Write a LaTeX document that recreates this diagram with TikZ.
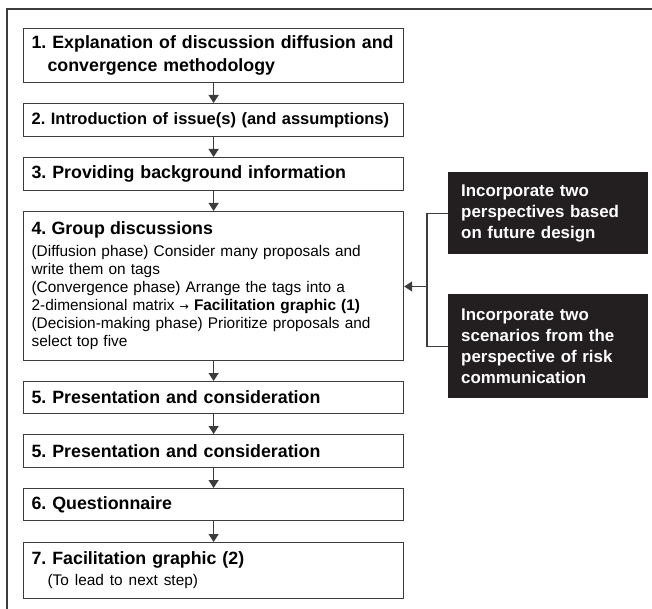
\documentclass[tikz,border=0pt]{standalone}
\usepackage{fontspec}
\setmainfont{Liberation Sans}
\newfontfamily\arrowfont{DejaVu Sans}
\usetikzlibrary{arrows.meta}
\definecolor{linegray}{HTML}{3C3C3C}
\definecolor{notebg}{HTML}{231F20}
\tikzset{
  stepbox/.style={draw=linegray,line width=1.2pt,anchor=north west,text width=364pt,
    inner xsep=8pt,inner ysep=0pt,align=left,font=\fontsize{17.8}{23}\selectfont\bfseries},
  notebox/.style={fill=notebg,text=white,anchor=north west,text width=174pt,
    inner xsep=13pt,inner ysep=0pt,align=left,font=\fontsize{16.9}{21}\selectfont\bfseries},
  flow/.style={draw=linegray,line width=1.2pt,-{Triangle[length=8pt,width=10pt]}}
}
\frenchspacing
\hyphenpenalty=10000
\begin{document}
\begin{tikzpicture}[x=1pt,y=-1pt]
        \useasboundingbox (0,0) rectangle (652,609);
        \draw[linegray,line width=1.2pt] (652,9) -- (7,9) -- (7,609);

        \node[stepbox,minimum height=54pt]  (p1) at (23,28)  {1. Explanation of discussion diffusion and\\\hspace*{16pt}convergence methodology};
        \node[stepbox,minimum height=33pt,font=\fontsize{16.5}{23}\selectfont\bfseries]  (p2) at (23,103) {2. Introduction of issue(s) (and assumptions)};
        \node[stepbox,minimum height=33pt]  (p3) at (23,157) {3. Providing background information};
        \node[stepbox,minimum height=149pt,font=\fontsize{15.4}{18}\selectfont] (p4) at (23,211)
            {{\fontsize{17.8}{23}\selectfont\bfseries 4. Group discussions}\\[4pt]
             (Diffusion phase) Consider many proposals and\\
             write them on tags\\
             (Convergence phase) Arrange the tags into a\\
             2-dimensional matrix {\arrowfont\fontsize{11}{18}\selectfont →} \textbf{Facilitation graphic (1)}\\
             (Decision-making phase) Prioritize proposals and\\
             select top five};
        \node[stepbox,minimum height=32pt]  (p5) at (23,381) {5. Presentation and consideration};
        \node[stepbox,minimum height=33pt]  (p6) at (23,434) {5. Presentation and consideration};
        \node[stepbox,minimum height=32pt]  (p7) at (23,488) {6. Questionnaire};
        \node[stepbox,minimum height=56pt]  (p8) at (23,542)
            {7. Facilitation graphic (2)\\[-2pt]\hspace*{16pt}{\fontsize{15.4}{18}\selectfont\mdseries (To lead to next step)}};

        \node[notebox,minimum height=82pt]  (n1) at (448,172) {Incorporate two\\perspectives based\\on future design};
        \node[notebox,minimum height=104pt] (n2) at (448,294) {Incorporate two\\scenarios from the\\perspective of risk\\communication};
        \coordinate (merge) at (427,286.5);

        \path (p1) edge[flow] (p2);
        \path (p2) edge[flow] (p3);
        \path (p3) edge[flow] (p4);
        \path (p4) edge[flow] (p5);
        \path (p5) edge[flow] (p6);
        \path (p6) edge[flow] (p7);
        \path (p7) edge[flow] (p8);

        \draw [linegray,line width=1.2pt] (n1.west) -| (merge);
        \draw [linegray,line width=1.2pt] (n2.west) -| (merge);
        \path (merge) edge[flow] (p4.east |- merge);
    \end{tikzpicture}
\end{document}
